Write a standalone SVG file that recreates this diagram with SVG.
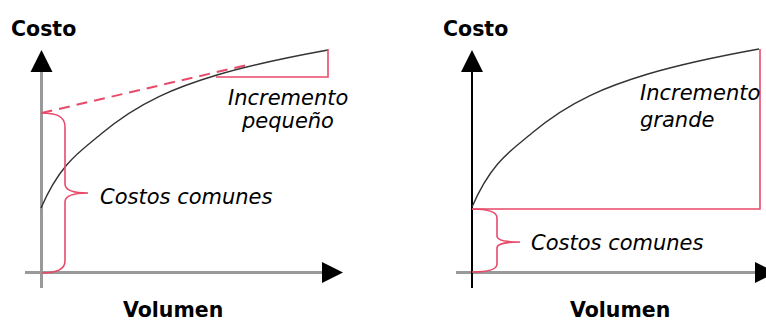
<svg xmlns="http://www.w3.org/2000/svg" width="766" height="323" viewBox="0 0 766 323">
<style>
.title{font-family:"DejaVu Sans","Liberation Sans",sans-serif;font-weight:bold;font-size:20.5px;fill:#000}
.lbl{font-family:"DejaVu Sans","Liberation Sans",sans-serif;font-style:italic;font-size:21px;fill:#000}
.gaxis{stroke:#999;stroke-width:3;fill:none}
.baxis{stroke:#000;stroke-width:2;fill:none}
.curve{stroke:#333;stroke-width:1.4;fill:none;stroke-linejoin:round}
.red{stroke:#e84a6a;stroke-width:1.6;fill:none}
.dash{stroke:#e84a6a;stroke-width:2;fill:none;stroke-dasharray:11 7}
.head{fill:#000}
</style>
<defs>
<path id="cost-curve" d="M41,208 C61,162 81,151 101,134 C140,101 178,86.7 217,75 C254,64 291,56.7 328,50"/>
</defs>
<rect width="766" height="323" fill="#fff"/>
<g id="left-chart">
  <g id="left-axes">
    <line class="gaxis" x1="41.5" y1="70" x2="41.5" y2="288"/>
    <polygon class="head" points="41.5,50 30.5,72 52.5,72"/>
    <line class="gaxis" x1="25" y1="272.5" x2="324" y2="272.5"/>
    <polygon class="head" points="343,272.5 322,262 322,283"/>
  </g>
  <g id="left-connectors">
    <line class="dash" x1="41.5" y1="113" x2="247" y2="65"/>
    <use href="#cost-curve" class="curve"/>
    <polyline class="red" points="216,77 328,77 328,49"/>
    <path class="red" d="M41.5,113 C56,113 65,116 65,127 L65,184 C65,190 74,193 88,193 C74,193 65,196 65,202 L65,261 C65,269 56,273 41.5,273"/>
  </g>
  <text class="title" x="11" y="36">Costo</text>
  <text class="title" x="123" y="317">Volumen</text>
  <text class="lbl" x="228" y="105">Incremento</text>
  <text class="lbl" x="242" y="128">pequeño</text>
  <text class="lbl" x="100" y="204">Costos comunes</text>
</g>
<g id="right-chart">
  <g id="right-axes">
    <line class="gaxis" x1="456" y1="272.5" x2="757" y2="272.5"/>
    <polygon class="head" points="776,272.5 755,262 755,283"/>
    <line class="baxis" x1="472" y1="70" x2="472" y2="288"/>
    <polygon class="head" points="472,50 461,72 483,72"/>
  </g>
  <g id="right-connectors">
    <use href="#cost-curve" class="curve" transform="translate(431,-1)"/>
    <polyline class="red" points="472,209 760,209 760,49"/>
    <path class="red" d="M472,209 C487,209 497,211 497,218 L497,236 C497,240 505,242 520,242 C505,242 497,244 497,248 L497,264 C497,270 487,272 472,272"/>
  </g>
  <text class="title" x="443" y="36">Costo</text>
  <text class="title" x="570" y="317">Volumen</text>
  <text class="lbl" x="640" y="100">Incremento</text>
  <text class="lbl" x="640" y="127">grande</text>
  <text class="lbl" x="531" y="250">Costos comunes</text>
</g>
</svg>
